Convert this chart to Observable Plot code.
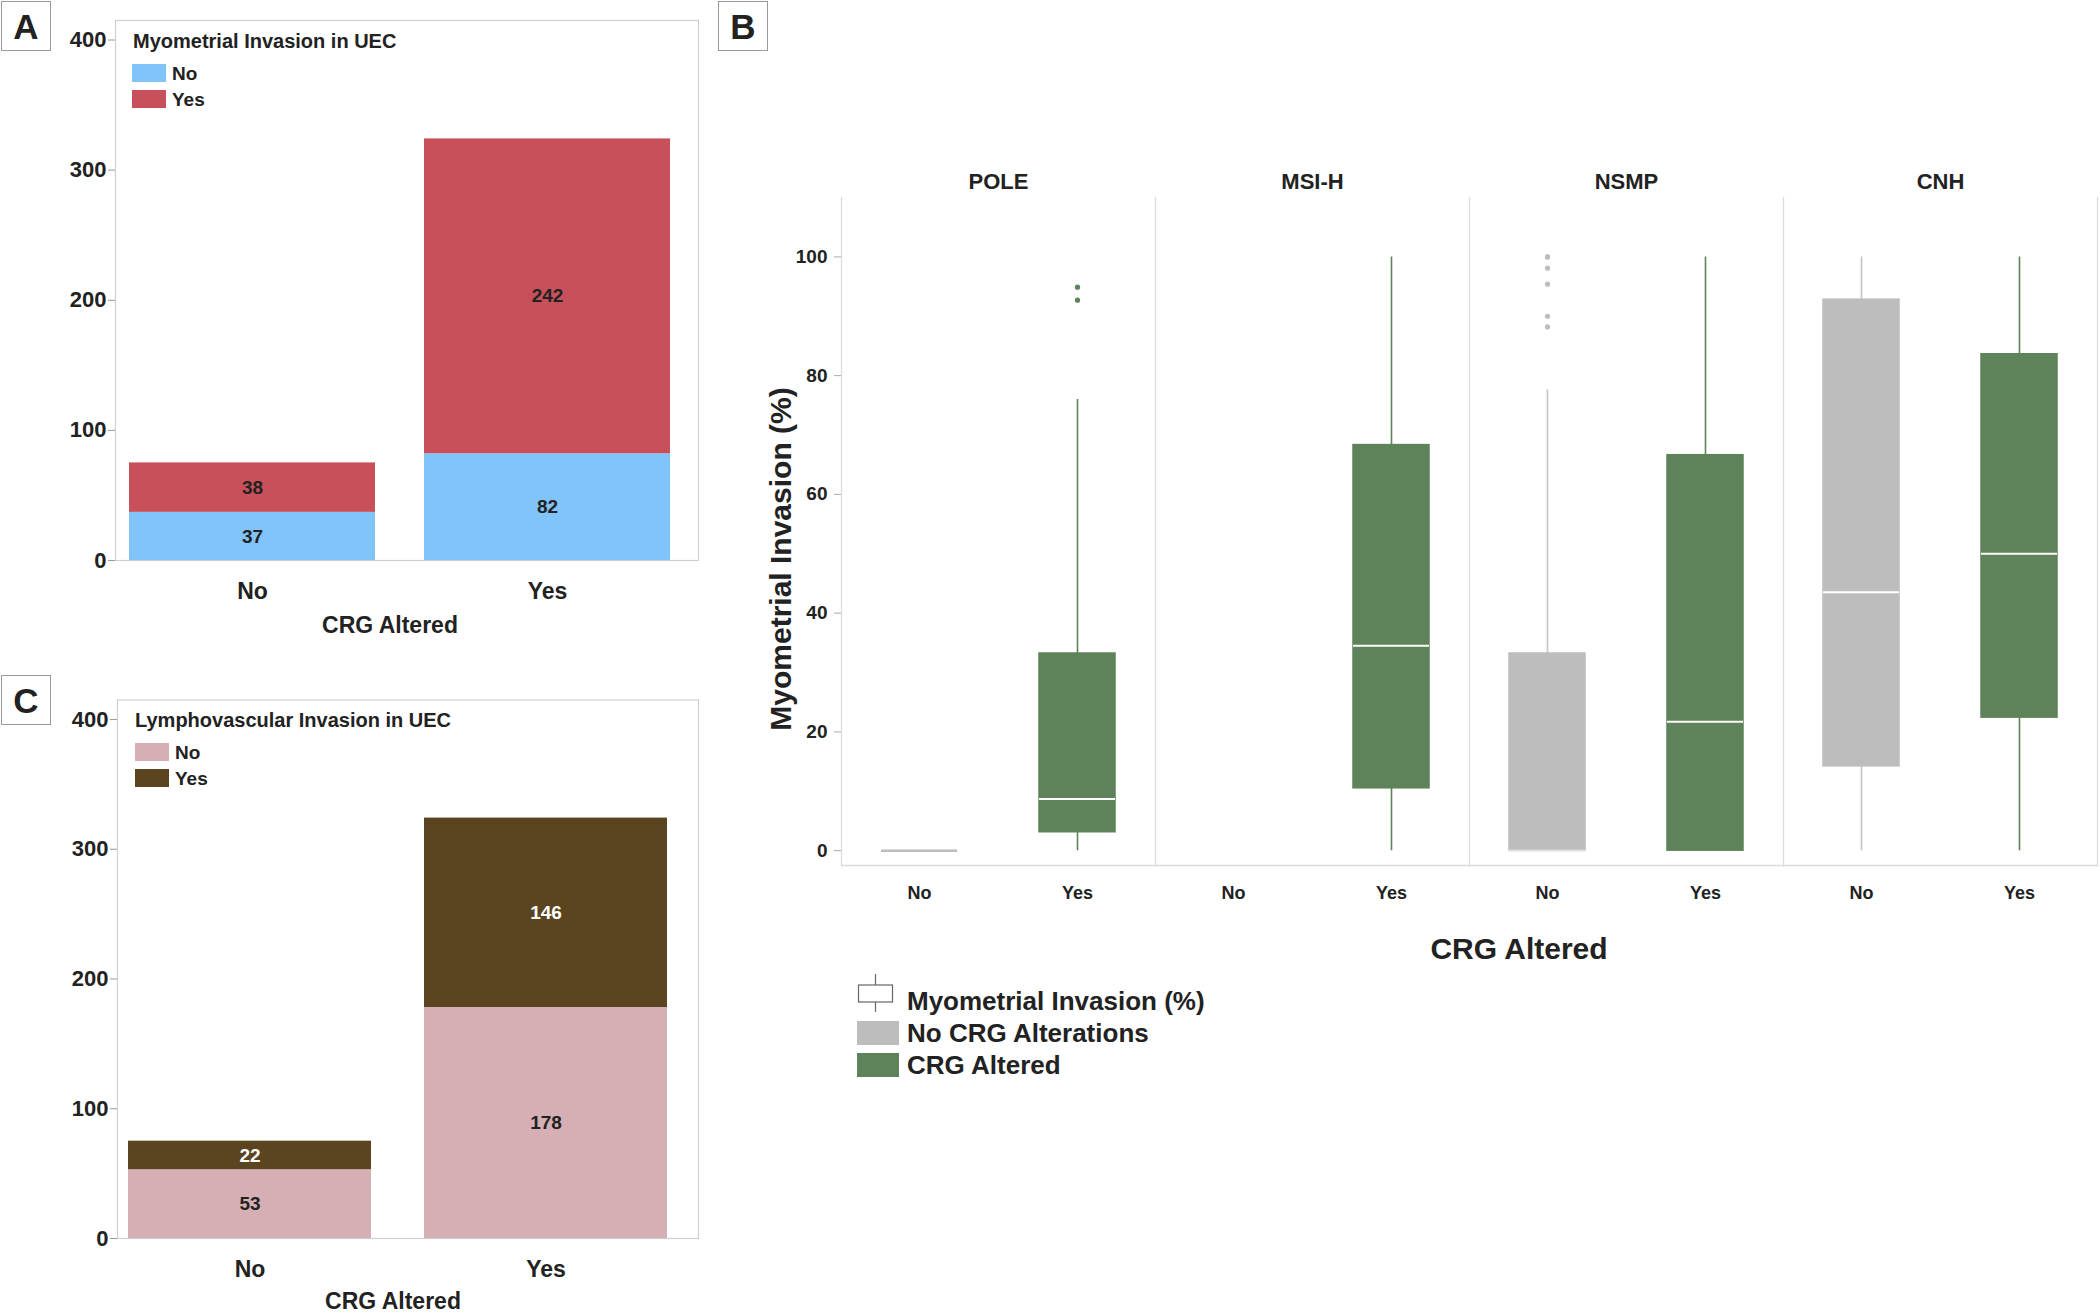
<!DOCTYPE html>
<html>
<head>
<meta charset="utf-8">
<script src="https://cdn.jsdelivr.net/npm/d3@7"></script>
<script src="https://cdn.jsdelivr.net/npm/@observablehq/plot@0.6"></script>
<style>
  html, body { margin: 0; padding: 0; background: #fff; }
  #fig { position: relative; width: 2100px; height: 1312px; overflow: hidden;
         font-family: "Liberation Sans", Arial, Helvetica, sans-serif; font-weight: bold; color: #222; }
  .panel { position: absolute; }
  .tag { position: absolute; box-sizing: border-box; width: 50px; height: 50px; border: 1.5px solid #999;
         display: flex; align-items: center; justify-content: center; font-size: 35px; background: #fff; line-height: 1; }
  .c { position: absolute; white-space: nowrap; line-height: 1; transform: translate(-50%, -50%); }
  .l { position: absolute; white-space: nowrap; line-height: 1; transform: translate(0, -50%); }
  .sw { position: absolute; }
</style>
</head>
<body>
<div id="fig"></div>
<script>
// ---------------- data ----------------
const crgCats = ["No", "Yes"];            // CRG Altered
const invLevels = ["No", "Yes"];          // invasion present
// Panel A: Myometrial invasion counts
const myoNo  = [37, 82];
const myoYes = [38, 242];
// Panel C: Lymphovascular invasion counts
const lviNo  = [53, 178];
const lviYes = [22, 146];

// Panel B: box plot summaries of myometrial invasion (%)
const subtypes = ["POLE", "MSI-H", "NSMP", "CNH"];
const boxGroup = ["POLE", "POLE", "MSI-H", "NSMP", "NSMP", "CNH", "CNH"];
const boxCrg   = ["No",   "Yes",  "Yes",   "No",   "Yes",  "No",  "Yes"];
const boxLo    = [0,      0,      0,       0,      0,      0,     0];
const boxQ1    = [0,      3.1,    10.5,    0,      0,      14.2,  22.4];
const boxMed   = [0,      8.7,    34.5,    0,      21.7,   43.5,  50];
const boxQ3    = [0,      33.2,   68.3,    33.2,   66.6,   92.8,  83.6];
const boxHi    = [0,      76,     100,     77.6,   100,    100,   100];
// outliers
const outGroup = ["POLE", "POLE", "NSMP", "NSMP", "NSMP", "NSMP", "NSMP", "NSMP"];
const outCrg   = ["Yes",  "Yes",  "No",   "No",   "No",   "No",   "No",   "No"];
const outVal   = [94.9,   92.7,   100,    100,    98.1,   95.4,   90.0,   88.2];

// ---------------- styles ----------------
const FONT = '"Liberation Sans", Arial, Helvetica, sans-serif';
const NARROW = '"Liberation Sans Narrow", "Arial Narrow", "Liberation Sans", Arial, sans-serif';
const myoColors = {No: "#80C4FA", Yes: "#C8505B"};
const myoLabel  = {No: "#222", Yes: "#222"};
const lviColors = {No: "#D5AFB4", Yes: "#5A4520"};
const lviLabel  = {No: "#222", Yes: "#fff"};
const crgFill   = {No: "#BDBDBD", Yes: "#5E8259"};
const crgWhisk  = {No: "#C4C4C4", Yes: "#5E8259"};

const fig = document.getElementById("fig");
function place(el, left, top) {
  const d = document.createElement("div");
  d.className = "panel";
  d.style.left = left + "px"; d.style.top = top + "px";
  d.appendChild(el); fig.appendChild(d);
}
function html(cls, text, x, y, size, extra = "") {
  const d = document.createElement("div");
  d.className = cls; d.textContent = text;
  d.style.cssText += `left:${x}px;top:${y}px;font-size:${size}px;${extra}`;
  fig.appendChild(d); return d;
}
function swatch(x, y, w, h, color) {
  const d = document.createElement("div");
  d.className = "sw";
  d.style.cssText = `left:${x}px;top:${y}px;width:${w}px;height:${h}px;background:${color}`;
  fig.appendChild(d);
}
function tag(letter, x, y) {
  const d = document.createElement("div");
  d.className = "tag"; d.textContent = letter;
  d.style.left = x + "px"; d.style.top = y + "px";
  fig.appendChild(d);
}

// ---------------- stacked bar panels ----------------
function toRows(noVals, yesVals) {
  const rows = [];
  crgCats.forEach((c, i) => {
    rows.push({crg: c, inv: invLevels[0], count: noVals[i]});
    rows.push({crg: c, inv: invLevels[1], count: yesVals[i]});
  });
  return rows;
}

function stackedPanel(rows, colors, labelColors, o) {
  return Plot.plot({
    width: o.width, height: o.height,
    marginLeft: o.marginLeft, marginRight: 2, marginTop: o.marginTop, marginBottom: o.marginBottom,
    style: {fontFamily: FONT, fontWeight: "bold", color: "#222", background: "transparent", overflow: "visible"},
    x: {domain: crgCats, paddingInner: o.paddingInner, paddingOuter: o.paddingOuter, align: o.align, label: null},
    y: {domain: [0, 415], label: null},
    marks: [
      Plot.frame({stroke: "#cfcfcf", strokeWidth: 1.2}),
      Plot.barY(rows, {x: "crg", y: "count", z: "inv", fill: d => colors[d.inv]}),
      Plot.text(rows, Plot.stackY({x: "crg", y: "count", z: "inv", text: d => String(d.count),
        fill: d => labelColors[d.inv], fontSize: 19, fontWeight: "bold"})),
      Plot.axisY({ticks: [0, 100, 200, 300, 400], tickSize: 7, tickPadding: 2, fontSize: 22,
        stroke: "#999", label: null}),
      Plot.axisX({tickSize: 0, tickPadding: 22, fontSize: 23, label: null})
    ]
  });
}

// Panel A
place(stackedPanel(toRows(myoNo, myoYes), myoColors, myoLabel, {
  width: 700, height: 640, marginLeft: 115, marginTop: 20, marginBottom: 80,
  paddingInner: 0.166, paddingOuter: 0.068, align: 0.33
}), 0, 0);
tag("A", 1, 1);
html("l", "Myometrial Invasion in UEC", 133, 41, 20);
invLevels.forEach((lv, i) => {
  swatch(132, 64 + i * 26, 34, 18, myoColors[lv]);
  html("l", lv, 172, 73 + i * 26, 19);
});
html("c", "CRG Altered", 390, 625, 23);

// Panel C
place(stackedPanel(toRows(lviNo, lviYes), lviColors, lviLabel, {
  width: 700, height: 642, marginLeft: 117, marginTop: 29.5, marginBottom: 74,
  paddingInner: 0.18, paddingOuter: 0.07, align: 0.25
}), 0, 670);
tag("C", 1, 675);
html("l", "Lymphovascular Invasion in UEC", 135, 720, 20);
invLevels.forEach((lv, i) => {
  swatch(135, 743 + i * 25.5, 34, 18, lviColors[lv]);
  html("l", lv, 175, 752 + i * 25.5, 19);
});
html("c", "CRG Altered", 393, 1301, 23);

// ---------------- Panel B: box plots ----------------
const boxes = boxGroup.map((g, i) => ({
  group: g, crg: boxCrg[i], lo: boxLo[i], q1: boxQ1[i], med: boxMed[i], q3: boxQ3[i], hi: boxHi[i]
}));
const outliers = outGroup.map((g, i) => ({group: g, crg: outCrg[i], value: outVal[i]}));

const plotB = Plot.plot({
  width: 1384, height: 760,
  marginLeft: 125, marginRight: 3, marginTop: 47, marginBottom: 45,
  style: {fontFamily: FONT, fontWeight: "bold", color: "#222", background: "transparent", overflow: "visible"},
  fx: {domain: subtypes, padding: 0, label: null},
  x: {domain: crgCats, paddingInner: 0.52, paddingOuter: 0.25, label: null},
  y: {domain: [-2.5, 110], label: null},
  marks: [
    Plot.frame({anchor: "left", stroke: "#dcdcdc", strokeWidth: 1.3}),
    Plot.frame({anchor: "bottom", stroke: "#dcdcdc", strokeWidth: 1.3}),
    Plot.frame({anchor: "right", stroke: "#dcdcdc", strokeWidth: 1.3, facetAnchor: "right"}),
    Plot.ruleX(boxes, {fx: "group", x: "crg", y1: "lo", y2: "hi", stroke: d => crgWhisk[d.crg], strokeWidth: 1.6}),
    Plot.barY(boxes, {fx: "group", x: "crg", y1: "q1", y2: "q3", fill: d => crgFill[d.crg],
      stroke: d => crgFill[d.crg], strokeWidth: 1.5, filter: d => d.q3 > d.q1}),
    // collapsed boxes (q1 == q3) drawn as a line
    Plot.tickY(boxes, {fx: "group", x: "crg", y: "q1", stroke: d => crgFill[d.crg], strokeWidth: 2.5,
      filter: d => d.q3 === d.q1}),
    Plot.tickY(boxes, {fx: "group", x: "crg", y: "med", stroke: "#fff", strokeWidth: 2,
      filter: d => d.q3 > d.q1 && d.med > d.q1}),
    Plot.tickY(boxes, {fx: "group", x: "crg", y: "med", stroke: "#e4e4e4", strokeWidth: 2,
      filter: d => d.q3 > d.q1 && d.med === d.q1}),
    Plot.dot(outliers, {fx: "group", x: "crg", y: "value", r: 2.6, fill: d => crgFill[d.crg], stroke: "none"}),
    Plot.axisY({ticks: [0, 20, 40, 60, 80, 100], tickSize: 7, tickPadding: 7, fontSize: 19,
      fontFamily: NARROW, stroke: "#aaa", label: null}),
    Plot.axisX({tickSize: 0, tickPadding: 21, fontSize: 18, label: null}),
    Plot.axisFx({anchor: "top", tickSize: 0, tickPadding: 9, fontSize: 22, label: null})
  ]
});
place(plotB, 716, 150);
tag("B", 718, 1);

// y label (rotated)
html("c", "Myometrial Invasion (%)", 781, 559, 30, "transform:translate(-50%,-50%) rotate(-90deg);");
html("c", "CRG Altered", 1519, 949, 30);

// legend for B
(function () {
  const ns = "http://www.w3.org/2000/svg";
  const svg = document.createElementNS(ns, "svg");
  svg.setAttribute("width", 40); svg.setAttribute("height", 42);
  svg.style.cssText = "position:absolute;left:856px;top:972px;";
  svg.innerHTML = '<line x1="19.5" x2="19.5" y1="2" y2="40" stroke="#666" stroke-width="1.2"/>' +
    '<rect x="2.5" y="13" width="34" height="17" fill="#fff" stroke="#666" stroke-width="1.2"/>';
  fig.appendChild(svg);
})();
html("l", "Myometrial Invasion (%)", 907, 1001, 26);
swatch(857, 1021, 42, 24, crgFill.No);
html("l", "No CRG Alterations", 907, 1033, 26);
swatch(857, 1053, 42, 24, crgFill.Yes);
html("l", "CRG Altered", 907, 1065, 26);
</script>
</body>
</html>
